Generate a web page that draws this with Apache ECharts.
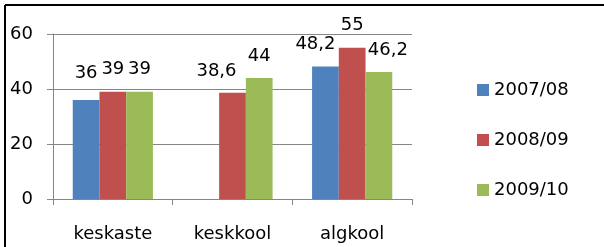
<!DOCTYPE html>
<html>
<head>
<meta charset="utf-8">
<script src="https://cdn.jsdelivr.net/npm/echarts@6/dist/echarts.min.js"></script>
<style>
  html, body { margin: 0; padding: 0; background: #fff; }
  #chart { width: 604px; height: 247px; }
</style>
</head>
<body>
<div id="chart"></div>
<script>
const categories = ['keskaste', 'keskkool', 'algkool'];
const seriesNames = ['2007/08', '2008/09', '2009/10'];
const values0708 = [36, null, 48.2];
const values0809 = [39, 38.6, 55];
const values0910 = [39, 44, 46.2];
const yTicks = [0, 20, 40, 60];

const colors = ['#4F81BD', '#C0504D', '#9BBB59'];
const font = 'DejaVu Sans';

// label nudges, Excel moves a few labels aside
const nudges = {
  '0-0': [0, -5],
  '1-1': [-16, 0],
  '0-2': [-10, 0],
  '2-2': [9, 0]
};

function makeSeries(name, vals, si) {
  return {
    name: name,
    type: 'bar',
    barGap: '0%',
    barCategoryGap: '33%',
    itemStyle: { color: colors[si] },
    data: vals.map(function (v, ci) {
      const item = { value: v };
      const n = nudges[si + '-' + ci];
      if (n) item.label = { offset: n };
      return item;
    }),
    label: {
      show: true,
      position: 'top',
      distance: 13,
      fontFamily: font,
      fontSize: 18,
      color: '#000',
      formatter: function (p) {
        return String(p.value).replace('.', ',');
      }
    }
  };
}

const chart = echarts.init(document.getElementById('chart'));
chart.setOption({
  animation: false,
  graphic: [
    { type: 'line', shape: { x1: 5, y1: 5, x2: 604, y2: 5 }, style: { stroke: '#000', lineWidth: 2 } },
    { type: 'line', shape: { x1: 5, y1: 5, x2: 5, y2: 247 }, style: { stroke: '#000', lineWidth: 2 } }
  ],
  grid: { left: 53, top: 34, width: 359, height: 165 },
  legend: {
    orient: 'vertical',
    left: 472,
    top: 75,
    itemWidth: 12,
    itemHeight: 12,
    itemGap: 30,
    icon: 'rect',
    textStyle: { fontFamily: font, fontSize: 18, color: '#000', lineHeight: 20 },
    data: seriesNames
  },
  xAxis: {
    type: 'category',
    data: categories,
    axisLine: { lineStyle: { color: '#868686' } },
    axisTick: { show: true, length: 6, lineStyle: { color: '#868686' } },
    axisLabel: { margin: 26, fontFamily: font, fontSize: 18, color: '#000' }
  },
  yAxis: {
    type: 'value',
    min: yTicks[0],
    max: yTicks[yTicks.length - 1],
    interval: 20,
    axisLine: { show: true, lineStyle: { color: '#868686' } },
    axisTick: { show: true, length: 6, lineStyle: { color: '#868686' } },
    splitLine: { lineStyle: { color: '#868686' } },
    axisLabel: { margin: 20, fontFamily: font, fontSize: 18, color: '#000' }
  },
  series: [
    makeSeries(seriesNames[0], values0708, 0),
    makeSeries(seriesNames[1], values0809, 1),
    makeSeries(seriesNames[2], values0910, 2)
  ]
});
</script>
</body>
</html>
